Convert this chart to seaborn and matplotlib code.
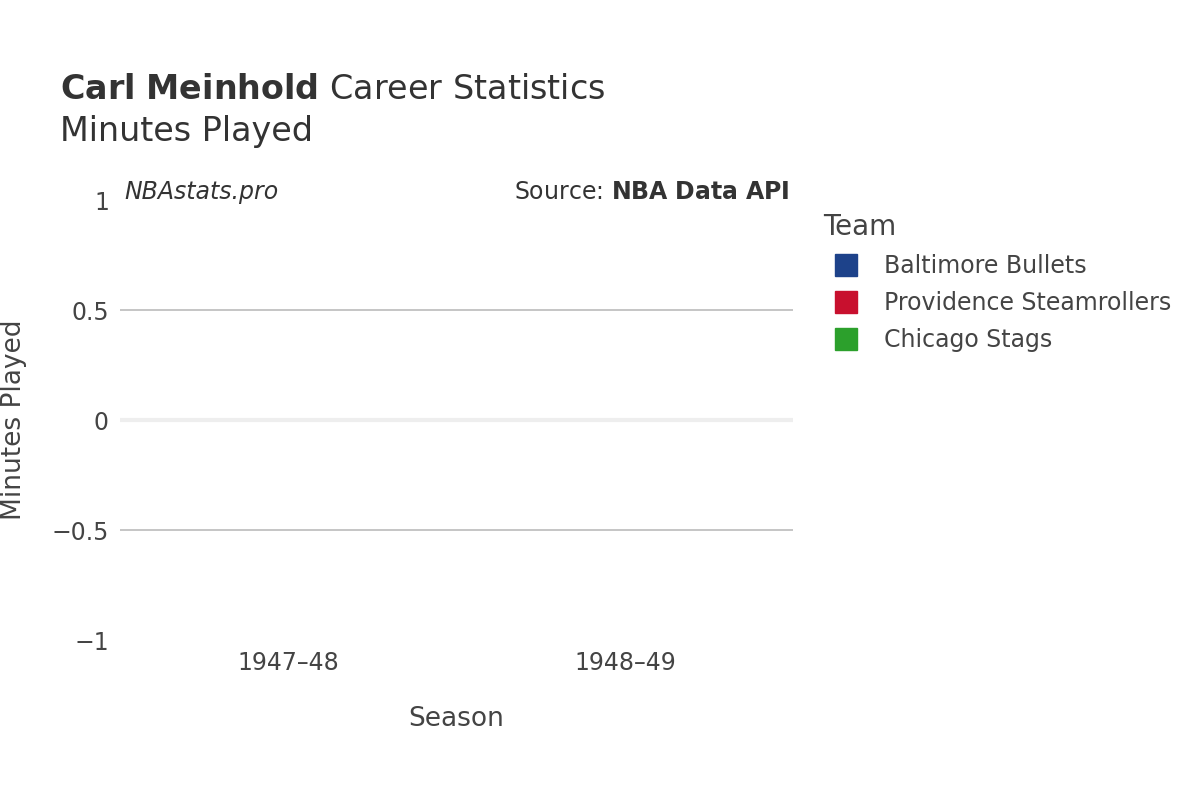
import matplotlib
matplotlib.use("Agg")
import matplotlib.pyplot as plt
import seaborn as sns
import pandas as pd
from matplotlib.lines import Line2D

seasons = ["1947\u201348", "1948\u201349"]
teams = ["Baltimore Bullets", "Providence Steamrollers", "Chicago Stags"]
colors = ["#1d428a", "#c8102e", "#2ca02c"]
season_col = ["1947\u201348", "1948\u201349", "1948\u201349"]
minutes = [0, 0, 0]

df = pd.DataFrame({"Season": season_col, "Team": teams, "Minutes": minutes})

plt.rcParams["font.family"] = "DejaVu Sans"
fig = plt.figure(figsize=(12, 8), dpi=100)
ax = fig.add_axes([0.1, 0.2, 0.561, 0.55])
sns.barplot(data=df, x="Season", y="Minutes", hue="Team", order=seasons,
            hue_order=teams, palette=colors, ax=ax, legend=False)
ax.set_ylim(-1, 1)
ax.set_xlim(-0.5, 1.5)
for y in (0.5, -0.5):
    ax.axhline(y, color="#bbbbbb", lw=1.2, zorder=0)
ax.axhline(0, color="#eeeeee", lw=3, zorder=0)
ax.set_yticks([1, 0.5, 0, -0.5, -1])
ax.set_yticklabels(["1", "0.5", "0", "\u22120.5", "\u22121"])
for s in ax.spines.values():
    s.set_visible(False)
ax.tick_params(length=0, labelsize=17, colors="#444444", pad=8)
ax.set_xlabel("Season", fontsize=19, color="#444444", labelpad=22)
ax.set_ylabel("Minutes Played", fontsize=19, color="#444444", labelpad=18)

fig.text(0.05, 0.868, "$\\bf{Carl\\ Meinhold}$ Career Statistics", fontsize=24, color="#333333", va="bottom")
fig.text(0.05, 0.815, "Minutes Played", fontsize=24, color="#333333", va="bottom")
fig.text(0.104, 0.76, "NBAstats.pro", fontsize=17, style="italic", color="#333333", va="center")
fig.text(0.658, 0.76, "Source: $\\bf{NBA\\ Data\\ API}$", fontsize=17, color="#333333", va="center", ha="right")

handles = [Line2D([], [], marker="s", ls="", markersize=16, color=c) for c in colors]
leg = fig.legend(handles, teams, loc="upper left", bbox_to_anchor=(0.668, 0.76),
                 frameon=False, fontsize=17, title="Team", title_fontsize=20,
                 labelcolor="#444444", handletextpad=0.6, labelspacing=0.55)
leg._legend_box.align = "left"
leg.get_title().set_color("#444444")
fig.savefig("out.png", dpi=100)
